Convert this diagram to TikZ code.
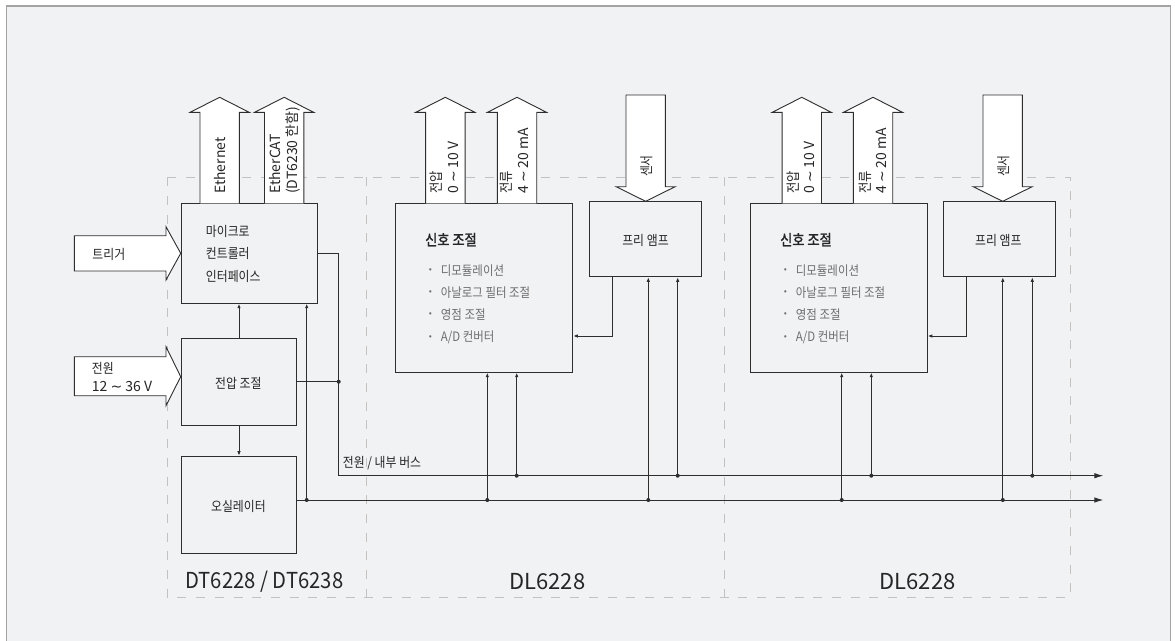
\documentclass[tikz,border=0pt]{standalone}
\usepackage{graphicx}
\usepackage{fontspec}
\setmainfont{Noto Sans CJK KR}
\newfontfamily\kr[FakeStretch=0.88]{Noto Sans CJK KR}
\newfontfamily\krb[FakeStretch=0.88,FakeBold=1.5]{Noto Sans CJK KR}
\newfontfamily\dv{DejaVu Sans}
\newcommand\tld{{\dv ∼}}
\usetikzlibrary{arrows.meta}
\definecolor{bg}{HTML}{F1F2F4}
\definecolor{frm}{HTML}{A3A3A3}
\definecolor{dsh}{HTML}{C2C2C2}
\definecolor{ln}{HTML}{2E2E2E}
\definecolor{txt}{HTML}{262626}
\definecolor{gtx}{HTML}{6E6E6E}
\newcommand\UpBlk[1]{%
  \draw[blk] ({#1-19.7},203.3) -- ({#1-19.7},112.3) -- ({#1-29.5},112.3) -- (#1,97.3)
    -- ({#1+29.5},112.3) -- ({#1+19.7},112.3) -- ({#1+19.7},203.3);}
\newcommand\DnBlk[1]{%
  \draw[blk] ({#1-19.7},95) -- ({#1+19.7},95) -- ({#1+19.7},186.7) -- ({#1+29.5},186.7)
    -- (#1,201.3) -- ({#1-29.5},186.7) -- ({#1-19.7},186.7) -- cycle;}
\begin{document}
\begin{tikzpicture}[x=1pt,y=-1pt,
  box/.style={draw=ln,line width=1pt,fill=bg,inner sep=0,anchor=north west},
  blk/.style={draw=ln,line width=0.9pt,fill=white,line join=miter},
  wire/.style={draw=ln,line width=0.9pt},
  arr/.style={wire,-{Latex[length=4.5pt,width=3.5pt]}},
  busarr/.style={wire,-{Latex[length=9pt,width=5.5pt]}},
  jdot/.style={circle,fill=ln,inner sep=0,minimum size=4pt},
  zone/.style={draw=dsh,line width=1pt,dash pattern=on 9pt off 9.7pt},
  kt/.style={font=\kr\fontsize{13.5}{16}\selectfont,text=txt,inner sep=0},
  gt/.style={font=\kr\fontsize{13}{16}\selectfont,text=gtx,inner sep=0,anchor=west},
  bul/.style={font=\fontsize{9}{9}\selectfont,text=gtx,inner sep=0},
  bt/.style={font=\krb\fontsize{15}{18}\selectfont,text=txt,inner sep=0,anchor=west},
  lt/.style={font=\fontsize{14}{16.5}\selectfont,text=txt,inner sep=0},
  rt/.style={lt,rotate=90,anchor=west,align=left},
  big/.style={font=\fontsize{22}{24}\selectfont,text=txt,inner sep=0},
]
\useasboundingbox (0,0) rectangle (1175,640);
\fill[white] (0,0) rectangle (1175,640);
\draw[frm,line width=1.3pt,fill=bg] (6.5,6) rectangle (1170.5,660);

% zones
\draw[zone] (167.3,177.3) rectangle (1070,597.3);
\draw[zone] (366.7,177.3) -- (366.7,597.3);
\draw[zone] (724.3,177.3) -- (724.3,597.3);

% boxes
\node[box,minimum width=136.6pt,minimum height=99.4pt] (mcu) at (180.7,203.3) {};
\node[box,minimum width=115.6pt,minimum height=87pt] (volt) at (180.7,337.7) {};
\node[box,minimum width=115.6pt,minimum height=97.3pt] (osc) at (180.7,455.7) {};
\node[box,minimum width=177pt,minimum height=168.4pt] (sigA) at (395.3,203.3) {};
\node[box,minimum width=112pt,minimum height=75pt] (preA) at (588.7,201.3) {};
\node[box,minimum width=177pt,minimum height=168.4pt] (sigB) at (749.8,203.3) {};
\node[box,minimum width=112pt,minimum height=75pt] (preB) at (943.2,201.3) {};

% bus coordinates
\coordinate (jA) at (338.7,475.7);
\coordinate (jB) at (306.7,500);
\coordinate (busAend) at (1103.3,475.7);
\coordinate (busBend) at (1103.3,500);
\coordinate (oscout) at (296.3,500);

% wires
\draw[wire] (mcu.east) -| (jA);
\draw[busarr] (jA) -- (busAend);
\draw[busarr] (oscout) -- (busBend);
\draw[wire] (volt.east) -- (volt.east -| jA) node[jdot] (jV) {};
\draw[arr] (volt.north) -- (volt.north |- mcu.south);
\draw[arr] (volt.south) -- (osc.north);
\draw[arr] (jB) -- (jB |- mcu.south);
\node[jdot] (dB) at (jB) {};

\foreach \xa/\xb/\sg in {487.3/516.7/sigA,841.7/871.3/sigB}{
  \coordinate (p) at (\xa,500);
  \coordinate (q) at (\xb,475.7);
  \draw[arr] (p) -- (p |- \sg.south);
  \draw[arr] (q) -- (q |- \sg.south);
  \node[jdot] at (p) {};
  \node[jdot] at (q) {};
}
\foreach \xa/\xb/\pr in {648.3/677.7/preA,1002.8/1032.3/preB}{
  \coordinate (p) at (\xa,500);
  \coordinate (q) at (\xb,475.7);
  \draw[arr] (p) -- (p |- \pr.south);
  \draw[arr] (q) -- (q |- \pr.south);
  \node[jdot] at (p) {};
  \node[jdot] at (q) {};
}
\coordinate (oA) at (612.3,336);
\coordinate (oB) at (966.8,336);
\draw[arr] (oA |- preA.south) -- (oA) -- (oA -| sigA.east);
\draw[arr] (oB |- preB.south) -- (oB) -- (oB -| sigB.east);

% block arrows
\UpBlk{219.65}
\UpBlk{284.15}
\UpBlk{445.35}
\UpBlk{517}
\UpBlk{801.75}
\UpBlk{873}
\DnBlk{645.65}
\DnBlk{1002.65}
\draw[blk] (74.3,235.7) -- (166,235.7) -- (166,226.7) -- (180.7,253.3) -- (166,280) -- (166,271) -- (74.3,271) -- cycle;
\draw[blk] (74.3,356.7) -- (166,356.7) -- (166,346.7) -- (180.7,376.7) -- (166,405.7) -- (166,395.7) -- (74.3,395.7) -- cycle;

% texts in arrows
\node[rt] (teth) at (219.7,194) {Ethernet};
\node[rt] (tecat) at (285,194) {EtherCAT\\(DT6230 한함)};
\node[rt] (tvA) at (444.2,194) {{\kr 전압}\\0 \tld{} 10 V};
\node[rt] (tiA) at (514.2,194) {{\kr 전류}\\4 \tld{} 20 mA};
\node[rt] (tvB) at (800.6,194) {{\kr 전압}\\0 \tld{} 10 V};
\node[rt] (tiB) at (872.6,194) {{\kr 전류}\\4 \tld{} 20 mA};
\node[kt,rotate=90] (tsA) at (646.2,166) {센서};
\node[kt,rotate=90] (tsB) at (1003.2,166) {센서};
\node[kt] (ttrg) at (108.8,254) {트리거};
\node[kt,anchor=west] (tpw1) at (91.7,368.3) {전원};
\node[lt,anchor=west] (tpw2) at (91.7,386.8) {12 \tld{} 36 V};

% box texts
\node[kt,anchor=west] (m1) at (205.7,231.7) {마이크로};
\node[kt,anchor=west] (m2) at (205.7,253.8) {컨트롤러};
\node[kt,anchor=west] (m3) at (205.7,276.7) {인터페이스};
\node[kt] (tvolt) at (238.4,383.3) {전압 조절};
\node[kt] (tosc) at (238.4,506.7) {오실레이터};
\node[kt] (tpreA) at (645.5,240.8) {프리 앰프};
\node[kt] (tpreB) at (998.3,240.8) {프리 앰프};

\foreach \dx/\nm in {0/A,355/B}{
  \node[bt] (sh\nm) at (425+\dx,239.7) {신호 조절};
  \foreach \yy/\tx in {270.7/{디모듈레이션},292.7/{아날로그 필터 조절},315/{영점 조절},337.7/{A/D 컨버터}}{
    \node[bul] at (430.3+\dx,\yy) {•};
    \node[gt] at (440.7+\dx,\yy) {\tx};
  }
}

\node[kt,anchor=west] (tbus) at (342.7,463.3) {전원 / 내부 버스};

% zone labels
\node[big] (zl1) at (264.3,581.7) {\scalebox{0.92}[1]{DT6228 / DT6238}};
\node[big] (zl2) at (547.3,581.7) {DL6228};
\node[big] (zl3) at (917.5,581.7) {DL6228};
\end{tikzpicture}
\end{document}
